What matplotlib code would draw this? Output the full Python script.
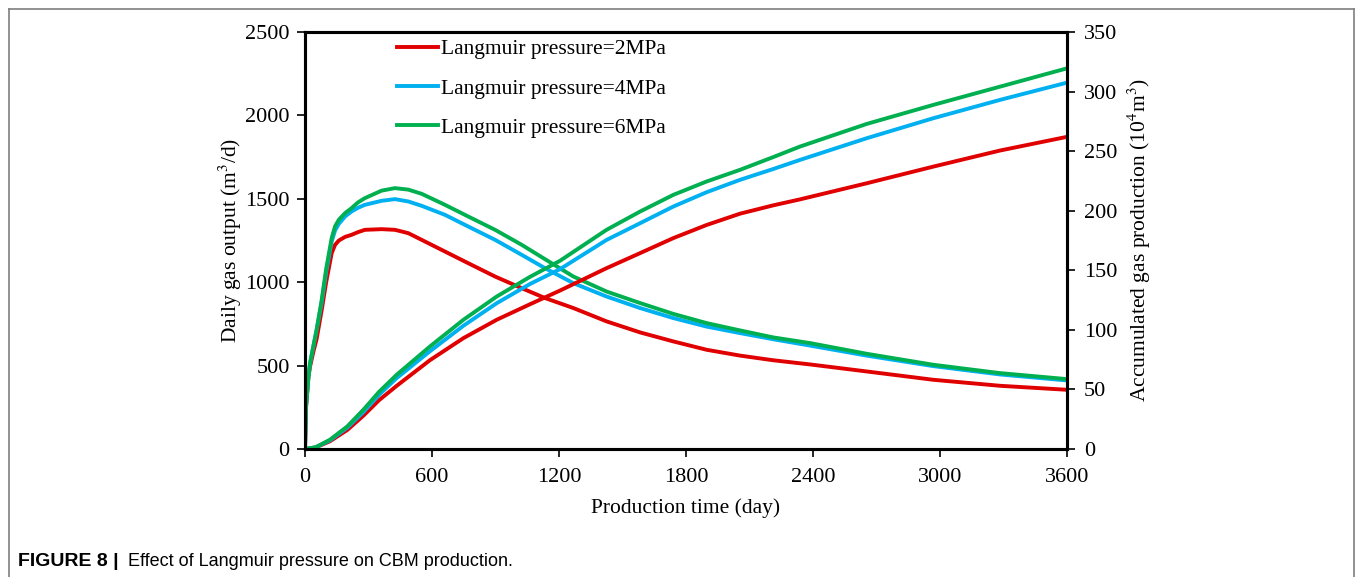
import matplotlib
matplotlib.use("Agg")
import matplotlib.pyplot as plt
from matplotlib.lines import Line2D

# --- data ---
days_daily = [0, 5, 16, 24, 39, 55, 79, 100, 126, 142, 160, 190, 220, 250, 283, 362, 425,
              488, 551, 661, 771, 898, 1024, 1134, 1268, 1425, 1583, 1740, 1897, 2055,
              2212, 2386, 2653, 2968, 3283, 3600]
daily_2mpa = [0, 250, 430, 495, 580, 660, 834, 1000, 1174, 1224, 1250, 1272, 1284, 1300,
              1314, 1318, 1314, 1294, 1254, 1184, 1114, 1034, 964, 905, 845, 765, 699, 645,
              595, 560, 532, 507, 465, 415, 379, 355]
daily_4mpa = [0, 260, 430, 515, 610, 715, 880, 1060, 1244, 1310, 1350, 1395, 1424, 1446,
              1464, 1488, 1498, 1484, 1458, 1404, 1334, 1254, 1164, 1084, 994, 914, 845,
              785, 734, 695, 658, 620, 560, 497, 447, 411]
daily_6mpa = [0, 260, 430, 515, 615, 715, 895, 1080, 1264, 1335, 1375, 1415, 1444, 1478,
              1504, 1549, 1564, 1555, 1530, 1464, 1394, 1314, 1224, 1138, 1034, 944, 875,
              810, 755, 711, 669, 635, 571, 505, 455, 419]

days_cum = [0, 50, 118, 200, 276, 350, 433, 590, 748, 906, 1063, 1205, 1425, 1583, 1740,
            1897, 2055, 2212, 2338, 2653, 2968, 3283, 3600]
cum_2mpa = [0, 1.3, 6.5, 16, 28, 41, 53, 74.5, 93, 108.5, 121.5, 133, 151.8, 164.4, 177,
            188, 197.5, 204.5, 209.5, 223, 237, 250.5, 262]
cum_4mpa = [0, 1.4, 7.3, 18, 31, 45.5, 59.5, 82, 103.4, 122.4, 138.5, 151, 175.5, 189.5,
            203.5, 215.5, 225.9, 235, 242.6, 260.8, 277.6, 293, 307.5]
cum_6mpa = [0, 1.4, 7.8, 19, 33, 48, 62.3, 86, 108.4, 128, 144.5, 158, 184, 199.3, 213.3,
            224.5, 234.3, 245, 253.8, 272.8, 288.8, 304.1, 319.5]

labels = ['Langmuir pressure=2MPa', 'Langmuir pressure=4MPa', 'Langmuir pressure=6MPa']
colors = ['#E00000', '#00B0F0', '#00B050']

x_ticks = [0, 600, 1200, 1800, 2400, 3000, 3600]
left_ticks = [0, 500, 1000, 1500, 2000, 2500]
right_ticks = [0, 50, 100, 150, 200, 250, 300, 350]

plt.rcParams['font.family'] = ['Liberation Serif', 'DejaVu Serif']
plt.rcParams['mathtext.fontset'] = 'stix'

W, H = 1357, 577
fig = plt.figure(figsize=(W / 100, H / 100), dpi=100)

# outer frame of the figure panel
frame_kw = dict(color='#7f7f7f', lw=1.2, transform=fig.transFigure)
fig.add_artist(Line2D([9 / W, 9 / W], [0, 1 - 9 / H], **frame_kw))
fig.add_artist(Line2D([9 / W, 1354 / W], [1 - 9 / H, 1 - 9 / H], **frame_kw))
fig.add_artist(Line2D([1354 / W, 1354 / W], [0, 1 - 9 / H], **frame_kw))

ax = fig.add_axes([305 / W, 1 - 449 / H, 762 / W, 417 / H])
ax2 = ax.twinx()

lw = 2.8
for d, c in zip([daily_2mpa, daily_4mpa, daily_6mpa], colors):
    ax.plot(days_daily, d, color=c, lw=lw, solid_joinstyle='round')
for cum, c in zip([cum_2mpa, cum_4mpa, cum_6mpa], colors):
    ax2.plot(days_cum, cum, color=c, lw=lw, solid_joinstyle='round')

ax.set_xlim(0, 3600)
ax.set_ylim(0, 2500)
ax2.set_ylim(0, 350)
ax.set_xticks(x_ticks)
ax.set_yticks(left_ticks)
ax2.set_yticks(right_ticks)

for a in (ax, ax2):
    for s in a.spines.values():
        s.set_linewidth(2.2)
        s.set_color('black')

ax.tick_params(axis='x', direction='out', length=6, width=1.2, labelsize=16, pad=8)
ax.tick_params(axis='y', direction='out', length=6, width=1.2, labelsize=16, pad=5)
ax2.tick_params(axis='y', direction='out', length=6, width=1.2, labelsize=16, pad=6)

ax.set_xlabel('Production time (day)', fontsize=15.5, labelpad=8)
ax.set_ylabel('Daily gas output (m$^{3}$/d)', fontsize=15.5, labelpad=1)
ax2.set_ylabel('Accumulated gas production (10$^{4}$m$^{3}$)', fontsize=15.5, labelpad=6)

handles = [Line2D([], [], color=c, lw=lw) for c in colors]
ax.legend(handles, labels, loc='upper left', bbox_to_anchor=(397 / W, 1 - 39 / H),
          bbox_transform=fig.transFigure, frameon=False, fontsize=15.5,
          handlelength=1.9, handletextpad=0.15, labelspacing=0.9, borderaxespad=0,
          borderpad=0)

fig.text(18 / W, 1 - 561 / H, 'FIGURE 8 |', fontsize=14, fontweight='bold',
         family='Liberation Sans', va='center', ha='left')
fig.text(128 / W, 1 - 561 / H, 'Effect of Langmuir pressure on CBM production.',
         fontsize=13, family='Liberation Sans', va='center', ha='left')

fig.savefig('out.png', dpi=100)
